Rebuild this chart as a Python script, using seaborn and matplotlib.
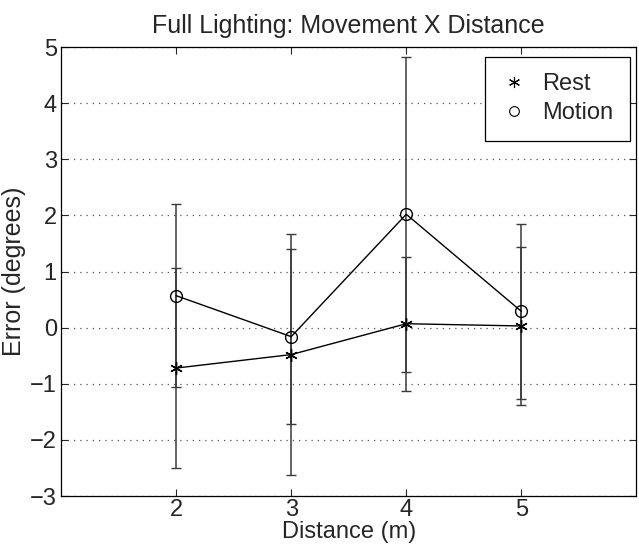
import matplotlib
matplotlib.use("Agg")
import matplotlib.pyplot as plt
import seaborn as sns
import pandas as pd
from matplotlib.lines import Line2D

distance = [2, 3, 4, 5]
rest_mean = [-0.72, -0.48, 0.07, 0.03]
rest_err = [1.78, 2.15, 1.19, 1.40]
motion_mean = [0.57, -0.16, 2.02, 0.29]
motion_err = [1.63, 1.56, 2.81, 1.56]
x_ticks = [2, 3, 4, 5]
y_ticks = [-3, -2, -1, 0, 1, 2, 3, 4, 5]

sns.set_style("white")
plt.rcParams['font.family'] = ['Liberation Sans', 'DejaVu Sans']

df_rest = pd.DataFrame({"Distance": distance, "Error": rest_mean})
df_motion = pd.DataFrame({"Distance": distance, "Error": motion_mean})

fig = plt.figure(figsize=(6.39, 5.53), dpi=100)
ax = fig.add_axes([0.0955, 0.103, 0.9005, 0.812])

# error bars
ax.errorbar(distance, rest_mean, yerr=rest_err, fmt='none', ecolor='#3a3a3a',
            elinewidth=1.1, capsize=3.5, capthick=1.0, zorder=2)
ax.errorbar(distance, motion_mean, yerr=motion_err, fmt='none', ecolor='#3a3a3a',
            elinewidth=1.1, capsize=3.5, capthick=1.0, zorder=2)

sns.lineplot(data=df_rest, x="Distance", y="Error", color='black', ax=ax,
             marker=(6, 2, 0), markersize=9, markeredgewidth=1.0,
             markeredgecolor='black', linewidth=1.0, zorder=3)
sns.lineplot(data=df_motion, x="Distance", y="Error", color='black', ax=ax,
             marker='o', markersize=8.5, markeredgewidth=1.0,
             markerfacecolor='none', markeredgecolor='black', linewidth=1.0, zorder=3)

ax.set_xlim(1, 6)
ax.set_ylim(-3, 5)
ax.set_xticks(x_ticks)
ax.set_yticks(y_ticks)
ax.set_yticklabels([("\u2212%d" % abs(v)) if v < 0 else str(v) for v in y_ticks])
ax.tick_params(direction='in', length=5, width=0.8, labelsize=17,
               top=True, right=True, bottom=True, left=True, pad=3)
ax.tick_params(axis='x', pad=2)
ax.yaxis.grid(True, linestyle=(0, (1, 4)), color='#555555', linewidth=0.9)
ax.xaxis.grid(False)
for s in ax.spines.values():
    s.set_color('black')
    s.set_linewidth(0.9)

ax.set_xlabel("Distance (m)", fontsize=17, labelpad=0)
ax.set_ylabel("Error (degrees)", fontsize=18, labelpad=3)
ax.set_title("Full Lighting: Movement X Distance", fontsize=18, pad=10)

handles = [Line2D([], [], marker=(6, 2, 0), color='black', linestyle='none', markersize=8, markeredgewidth=0.8),
           Line2D([], [], marker='o', color='black', markerfacecolor='none', linestyle='none', markersize=7, markeredgewidth=0.8)]
leg = ax.legend(handles, ["Rest", "Motion"], loc='upper right', fontsize=17,
                frameon=True, fancybox=False, edgecolor='black', framealpha=1,
                borderpad=0.7, handletextpad=0.7, handlelength=1.0,
                bbox_to_anchor=(0.988, 0.978), labelspacing=0.3, borderaxespad=0)
leg.get_frame().set_linewidth(0.9)

fig.savefig("out.png", dpi=100)
